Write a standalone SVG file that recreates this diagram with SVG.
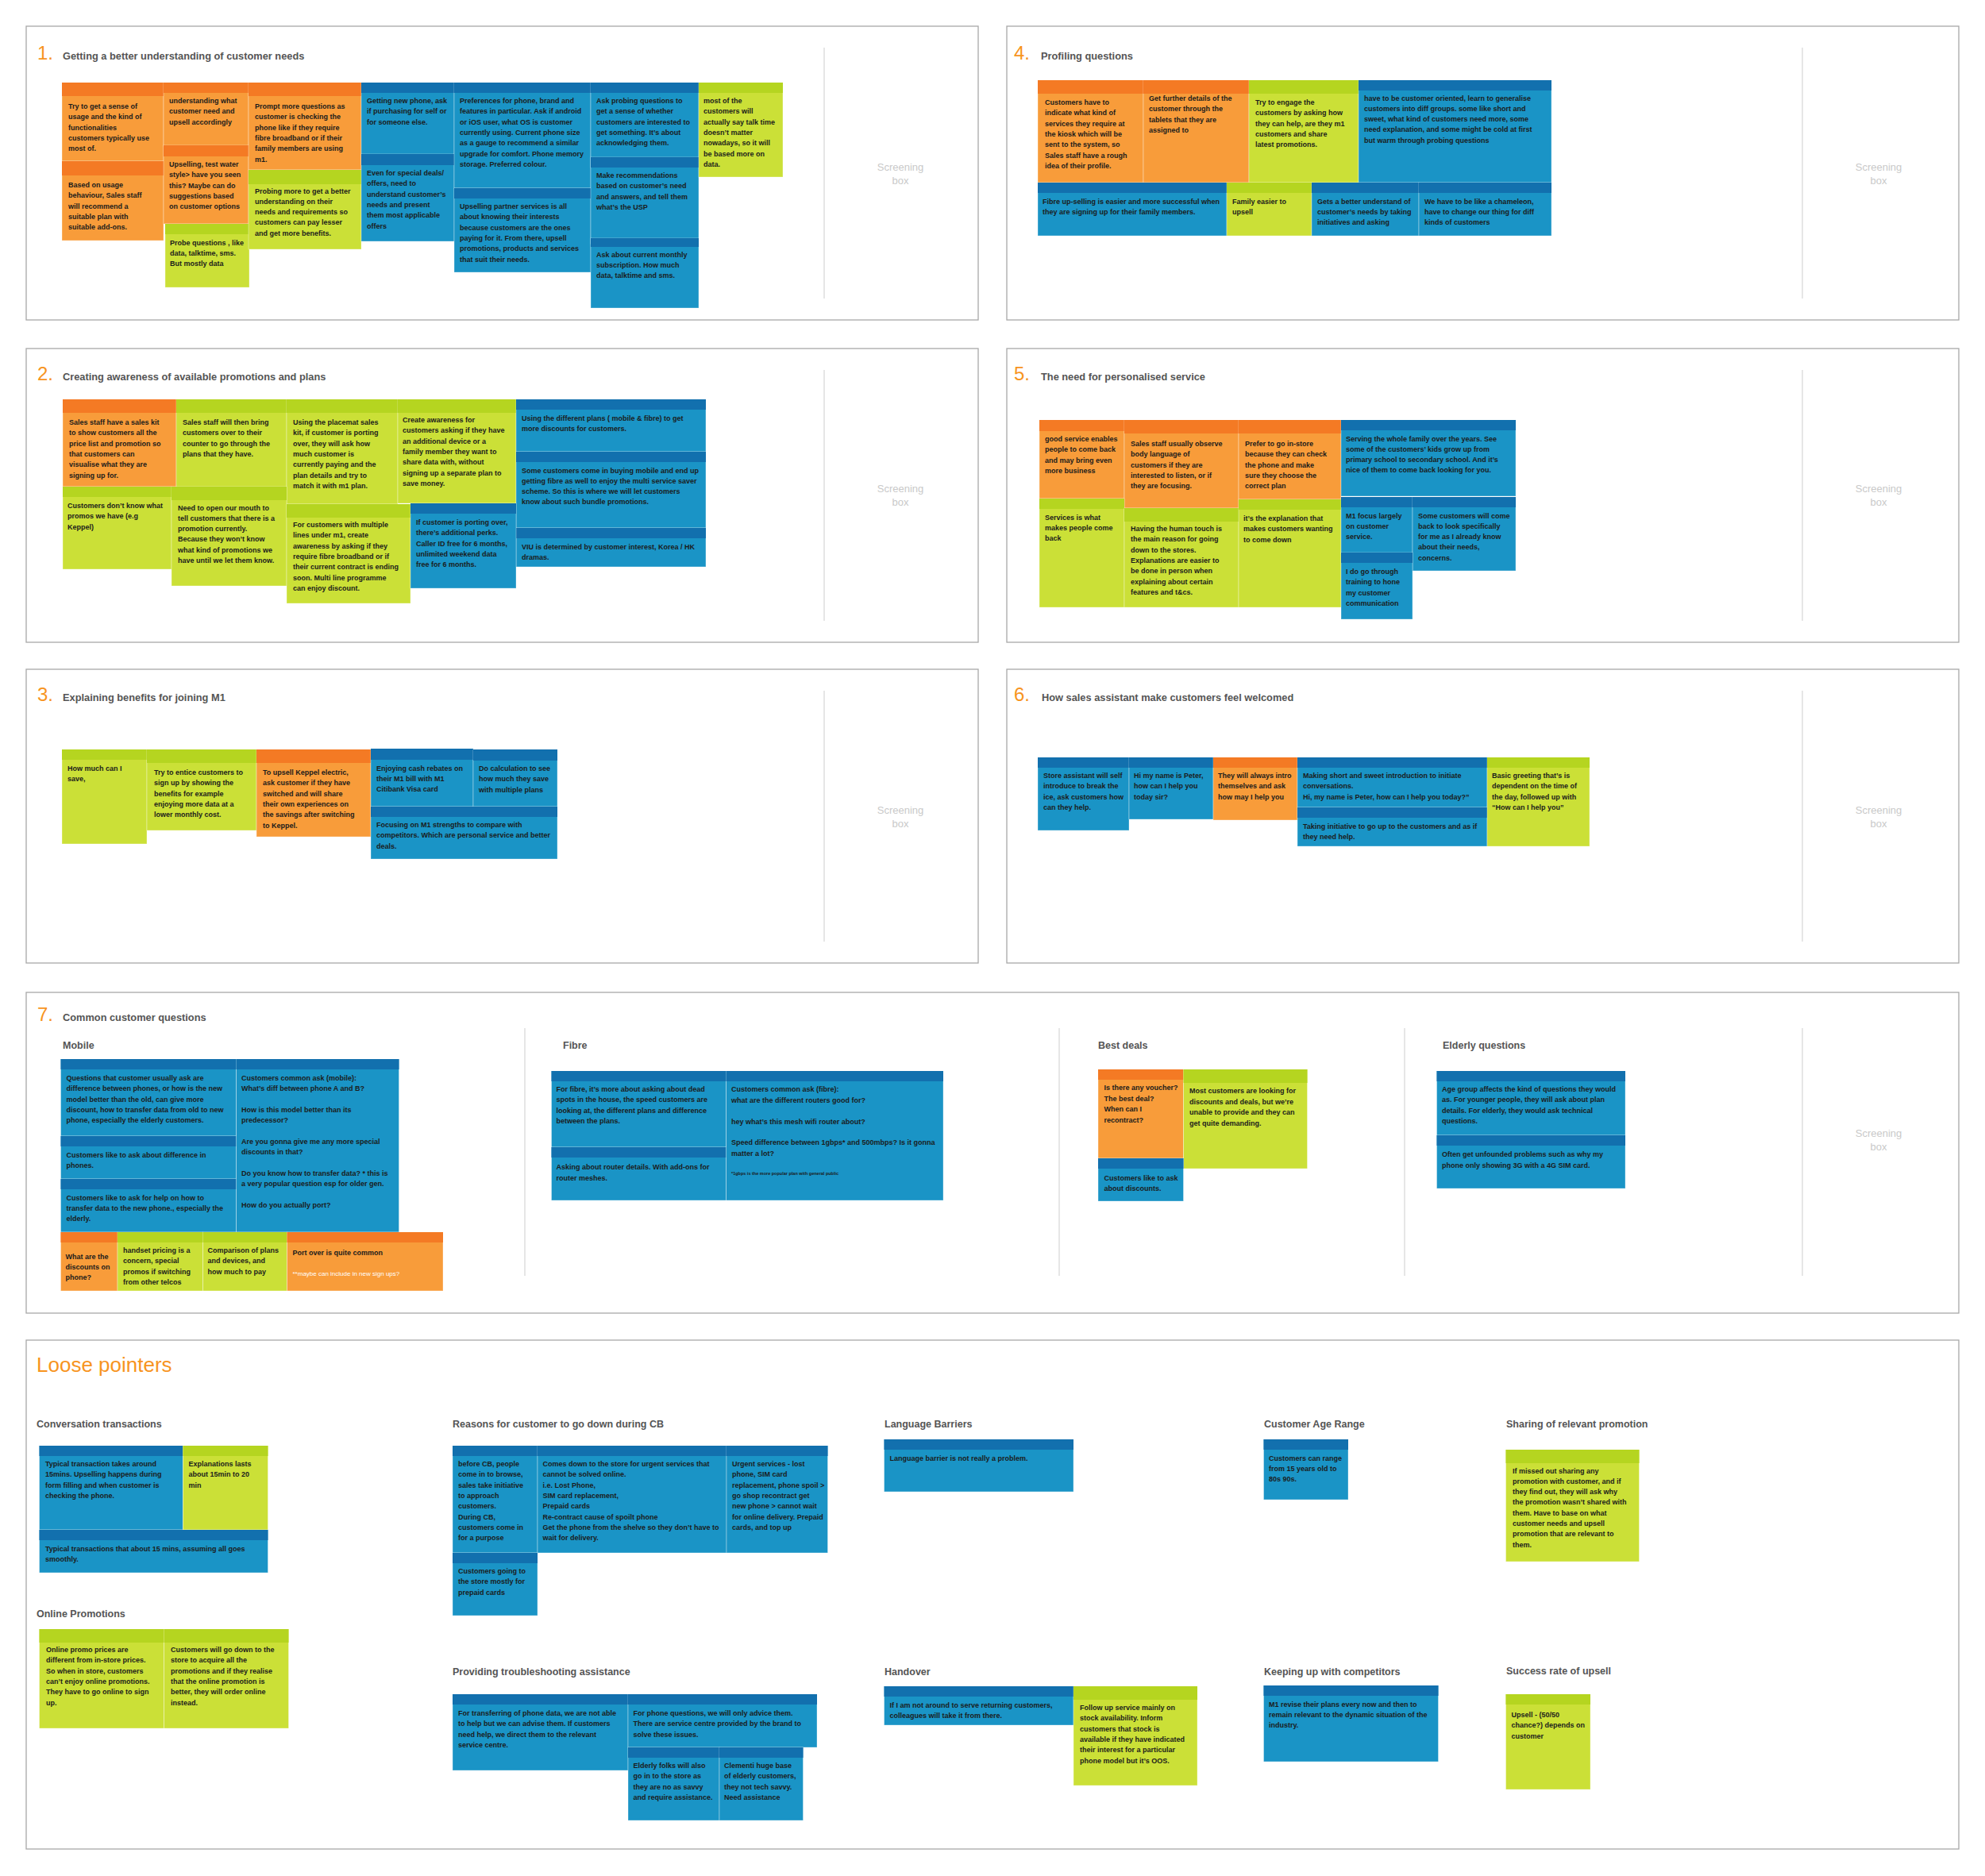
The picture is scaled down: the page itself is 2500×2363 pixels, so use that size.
<svg xmlns="http://www.w3.org/2000/svg" width="2500" height="2363" viewBox="0 0 2500 2363">
<style>
.frame{fill:none;stroke:#a8a8a8;stroke-width:1.3}
.div{stroke:#dedede;stroke-width:1.5}
.num{font-family:"Liberation Sans",Arial,sans-serif;font-size:24px;fill:#F7941E}
.title{font-family:"Liberation Sans",Arial,sans-serif;font-size:12.8px;font-weight:bold;fill:#555}
.sub{font-family:"Liberation Sans",Arial,sans-serif;font-size:12.5px;font-weight:bold;fill:#555}
.big{font-family:"Liberation Sans",Arial,sans-serif;font-size:26px;fill:#F7941E}
.scr{font-family:"Liberation Sans",Arial,sans-serif;font-size:13px;fill:#c9c9c9;text-anchor:middle}
.ob{fill:#F89C3A}.oh{fill:#F47A24}.gb{fill:#CBE037}.gh{fill:#B5D520}.bb{fill:#1A94C6}.bh{fill:#1270AE}
.nb{stroke:#ffffff;stroke-opacity:.35;stroke-width:1}
.t{font-family:"Liberation Sans",Arial,sans-serif;font-size:9px;font-weight:bold;fill:#1b1b1b}
.w{font-family:"Liberation Sans",Arial,sans-serif;font-size:8px;fill:#ffffff}
.s{font-family:"Liberation Sans",Arial,sans-serif;font-size:5.5px;font-weight:bold;fill:#1b1b1b}
</style>
<rect x="0" y="0" width="2500" height="2363" fill="#ffffff"/>

<!-- Section frames -->
<g id="frames">
<rect class="frame" x="33" y="33" width="1199" height="370"/>
<rect class="frame" x="1268" y="33" width="1199" height="370"/>
<rect class="frame" x="33" y="439" width="1199" height="370"/>
<rect class="frame" x="1268" y="439" width="1199" height="370"/>
<rect class="frame" x="33" y="843" width="1199" height="370"/>
<rect class="frame" x="1268" y="843" width="1199" height="370"/>
<rect class="frame" x="33" y="1250" width="2434" height="404"/>
<rect class="frame" x="33" y="1688" width="2434" height="641"/>
<line class="div" x1="1038" y1="60" x2="1038" y2="376"/>
<line class="div" x1="2270" y1="60" x2="2270" y2="376"/>
<line class="div" x1="1038" y1="466" x2="1038" y2="782"/>
<line class="div" x1="2270" y1="466" x2="2270" y2="782"/>
<line class="div" x1="1038" y1="870" x2="1038" y2="1186"/>
<line class="div" x1="2270" y1="870" x2="2270" y2="1186"/>
<line class="div" x1="661" y1="1295" x2="661" y2="1607"/>
<line class="div" x1="1334" y1="1295" x2="1334" y2="1607"/>
<line class="div" x1="1769" y1="1295" x2="1769" y2="1607"/>
<line class="div" x1="2270" y1="1295" x2="2270" y2="1607"/>
</g>

<!-- Titles -->
<g id="titles">
<text class="num" x="47" y="75">1.</text><text class="title" x="79" y="75">Getting a better understanding of customer needs</text>
<text class="num" x="1277" y="75">4.</text><text class="title" x="1311" y="75">Profiling questions</text>
<text class="num" x="47" y="479">2.</text><text class="title" x="79" y="479">Creating awareness of available promotions and plans</text>
<text class="num" x="1277" y="479">5.</text><text class="title" x="1311" y="479">The need for personalised service</text>
<text class="num" x="47" y="883">3.</text><text class="title" x="79" y="883">Explaining benefits for joining M1</text>
<text class="num" x="1277" y="883">6.</text><text class="title" x="1312" y="883">How sales assistant make customers feel welcomed</text>
<text class="num" x="47" y="1286">7.</text><text class="title" x="79" y="1286">Common customer questions</text>
<text class="sub" x="79" y="1321">Mobile</text>
<text class="sub" x="709" y="1321">Fibre</text>
<text class="sub" x="1383" y="1321">Best deals</text>
<text class="sub" x="1817" y="1321">Elderly questions</text>
<text class="big" x="46" y="1728">Loose pointers</text>
<text class="sub" x="46" y="1798">Conversation transactions</text>
<text class="sub" x="570" y="1798">Reasons for customer to go down during CB</text>
<text class="sub" x="46" y="2037">Online Promotions</text>
<text class="sub" x="570" y="2110">Providing troubleshooting assistance</text>
<text class="sub" x="1114" y="1798">Language Barriers</text>
<text class="sub" x="1592" y="1798">Customer Age Range</text>
<text class="sub" x="1897" y="1798">Sharing of relevant promotion</text>
<text class="sub" x="1114" y="2110">Handover</text>
<text class="sub" x="1592" y="2110">Keeping up with competitors</text>
<text class="sub" x="1897" y="2109">Success rate of upsell</text>
</g>

<!-- Screening boxes -->
<g id="screening">
<text class="scr" x="1134" y="215">Screening</text><text class="scr" x="1134" y="232">box</text>
<text class="scr" x="2366" y="215">Screening</text><text class="scr" x="2366" y="232">box</text>
<text class="scr" x="1134" y="620">Screening</text><text class="scr" x="1134" y="637">box</text>
<text class="scr" x="2366" y="620">Screening</text><text class="scr" x="2366" y="637">box</text>
<text class="scr" x="1134" y="1025">Screening</text><text class="scr" x="1134" y="1042">box</text>
<text class="scr" x="2366" y="1025">Screening</text><text class="scr" x="2366" y="1042">box</text>
<text class="scr" x="2366" y="1432">Screening</text><text class="scr" x="2366" y="1449">box</text>
</g>

<!-- Section 1 -->
<g id="n1-1"><rect class="ob nb" x="78" y="104" width="128" height="99"/><rect class="oh" x="78" y="104" width="128" height="17"/>
<text class="t" y="137"><tspan x="86">Try to get a sense of</tspan><tspan x="86" dy="13.3">usage and the kind of</tspan><tspan x="86" dy="13.3">functionalities</tspan><tspan x="86" dy="13.3">customers typically use</tspan><tspan x="86" dy="13.3">most of.</tspan></text></g>
<g id="n1-2"><rect class="ob nb" x="206" y="104" width="107" height="80"/><rect class="oh" x="206" y="104" width="107" height="13"/>
<text class="t" y="130"><tspan x="213">understanding what</tspan><tspan x="213" dy="13.3">customer need and</tspan><tspan x="213" dy="13.3">upsell accordingly</tspan></text></g>
<g id="n1-3"><rect class="ob nb" x="78" y="203" width="128" height="100"/><rect class="oh" x="78" y="203" width="128" height="18"/>
<text class="t" y="236"><tspan x="86">Based on usage</tspan><tspan x="86" dy="13.3">behaviour, Sales staff</tspan><tspan x="86" dy="13.3">will recommend a</tspan><tspan x="86" dy="13.3">suitable plan with</tspan><tspan x="86" dy="13.3">suitable add-ons.</tspan></text></g>
<g id="n1-4"><rect class="ob nb" x="206" y="183" width="107" height="99"/><rect class="oh" x="206" y="183" width="107" height="14"/>
<text class="t" y="210"><tspan x="213">Upselling, test water</tspan><tspan x="213" dy="13.3">style&gt; have you seen</tspan><tspan x="213" dy="13.3">this?  Maybe can do</tspan><tspan x="213" dy="13.3">suggestions based</tspan><tspan x="213" dy="13.3">on customer options</tspan></text></g>
<g id="n1-5"><rect class="gb nb" x="208" y="282" width="106" height="80"/><rect class="gh" x="208" y="282" width="106" height="13"/>
<text class="t" y="308.5"><tspan x="214">Probe questions , like</tspan><tspan x="214" dy="13.3">data, talktime, sms.</tspan><tspan x="214" dy="13.3">But mostly data</tspan></text></g>
<g id="n1-6"><rect class="ob nb" x="313" y="104" width="142" height="110"/><rect class="oh" x="313" y="104" width="142" height="17"/>
<text class="t" y="137"><tspan x="321">Prompt more questions as</tspan><tspan x="321" dy="13.3">customer is checking the</tspan><tspan x="321" dy="13.3">phone like if they require</tspan><tspan x="321" dy="13.3">fibre broadband or if their</tspan><tspan x="321" dy="13.3">family members are using</tspan><tspan x="321" dy="13.3">m1.</tspan></text></g>
<g id="n1-7"><rect class="gb nb" x="313" y="214" width="142" height="100"/><rect class="gh" x="313" y="214" width="142" height="18"/>
<text class="t" y="243.5"><tspan x="321">Probing more to get a better</tspan><tspan x="321" dy="13.3">understanding on their</tspan><tspan x="321" dy="13.3">needs and requirements so</tspan><tspan x="321" dy="13.3">customers can pay lesser</tspan><tspan x="321" dy="13.3">and get more benefits.</tspan></text></g>
<g id="n1-8"><rect class="bb nb" x="455" y="104" width="117" height="103"/><rect class="bh" x="455" y="104" width="117" height="13"/>
<text class="t" y="130"><tspan x="462">Getting new phone, ask</tspan><tspan x="462" dy="13.3">if purchasing for self or</tspan><tspan x="462" dy="13.3">for someone else.</tspan></text></g>
<g id="n1-9"><rect class="bb nb" x="455" y="194" width="117" height="110"/><rect class="bh" x="455" y="194" width="117" height="14"/>
<text class="t" y="221"><tspan x="462">Even for special deals/</tspan><tspan x="462" dy="13.3">offers, need to</tspan><tspan x="462" dy="13.3">understand customer’s</tspan><tspan x="462" dy="13.3">needs and present</tspan><tspan x="462" dy="13.3">them most applicable</tspan><tspan x="462" dy="13.3">offers</tspan></text></g>
<g id="n1-10"><rect class="bb nb" x="572" y="104" width="172" height="133"/><rect class="bh" x="572" y="104" width="172" height="13"/>
<text class="t" y="130"><tspan x="579">Preferences for phone, brand and</tspan><tspan x="579" dy="13.3">features in particular. Ask if android</tspan><tspan x="579" dy="13.3">or iOS user, what OS is customer</tspan><tspan x="579" dy="13.3">currently using. Current phone size</tspan><tspan x="579" dy="13.3">as a gauge to recommend  a similar</tspan><tspan x="579" dy="13.3">upgrade for comfort. Phone memory</tspan><tspan x="579" dy="13.3">storage. Preferred colour.</tspan></text></g>
<g id="n1-11"><rect class="bb nb" x="572" y="237" width="172" height="106"/><rect class="bh" x="572" y="237" width="172" height="13"/>
<text class="t" y="263"><tspan x="579">Upselling partner services is all</tspan><tspan x="579" dy="13.3">about knowing their interests</tspan><tspan x="579" dy="13.3">because customers are the ones</tspan><tspan x="579" dy="13.3">paying for it. From there, upsell</tspan><tspan x="579" dy="13.3">promotions, products and services</tspan><tspan x="579" dy="13.3">that suit their needs.</tspan></text></g>
<g id="n1-12"><rect class="bb nb" x="744" y="104" width="136" height="107"/><rect class="bh" x="744" y="104" width="136" height="13"/>
<text class="t" y="130"><tspan x="751">Ask probing questions to</tspan><tspan x="751" dy="13.3">get a sense of whether</tspan><tspan x="751" dy="13.3">customers are interested to</tspan><tspan x="751" dy="13.3">get something. It’s about</tspan><tspan x="751" dy="13.3">acknowledging them.</tspan></text></g>
<g id="n1-13"><rect class="bb nb" x="744" y="198" width="136" height="109"/><rect class="bh" x="744" y="198" width="136" height="13"/>
<text class="t" y="224"><tspan x="751">Make recommendations</tspan><tspan x="751" dy="13.3">based on customer’s need</tspan><tspan x="751" dy="13.3">and answers, and tell them</tspan><tspan x="751" dy="13.3">what’s the USP</tspan></text></g>
<g id="n1-14"><rect class="bb nb" x="744" y="300" width="136" height="88"/><rect class="bh" x="744" y="300" width="136" height="11"/>
<text class="t" y="323.5"><tspan x="751">Ask about current monthly</tspan><tspan x="751" dy="13.3">subscription. How much</tspan><tspan x="751" dy="13.3">data, talktime and sms.</tspan></text></g>
<g id="n1-15"><rect class="gb nb" x="880" y="104" width="106" height="119"/><rect class="gh" x="880" y="104" width="106" height="13"/>
<text class="t" y="130"><tspan x="886">most of the</tspan><tspan x="886" dy="13.3">customers will</tspan><tspan x="886" dy="13.3">actually say talk time</tspan><tspan x="886" dy="13.3">doesn’t matter</tspan><tspan x="886" dy="13.3">nowadays, so it will</tspan><tspan x="886" dy="13.3">be based more on</tspan><tspan x="886" dy="13.3">data.</tspan></text></g>

<!-- Section 4 -->
<g id="n4-1"><rect class="ob nb" x="1307" y="101" width="133" height="129"/><rect class="oh" x="1307" y="101" width="133" height="17"/>
<text class="t" y="132"><tspan x="1316">Customers have to</tspan><tspan x="1316" dy="13.3">indicate what kind of</tspan><tspan x="1316" dy="13.3">services they require at</tspan><tspan x="1316" dy="13.3">the kiosk which will be</tspan><tspan x="1316" dy="13.3">sent to the system, so</tspan><tspan x="1316" dy="13.3">Sales staff have a rough</tspan><tspan x="1316" dy="13.3">idea of their profile.</tspan></text></g>
<g id="n4-2"><rect class="ob nb" x="1440" y="101" width="133" height="129"/><rect class="oh" x="1440" y="101" width="133" height="17"/>
<text class="t" y="127"><tspan x="1447">Get further details of the</tspan><tspan x="1447" dy="13.3">customer through the</tspan><tspan x="1447" dy="13.3">tablets that they are</tspan><tspan x="1447" dy="13.3">assigned to</tspan></text></g>
<g id="n4-3"><rect class="gb nb" x="1573" y="101" width="138" height="129"/><rect class="gh" x="1573" y="101" width="138" height="17"/>
<text class="t" y="132"><tspan x="1581">Try to engage the</tspan><tspan x="1581" dy="13.3">customers by asking how</tspan><tspan x="1581" dy="13.3">they can help, are they m1</tspan><tspan x="1581" dy="13.3">customers and share</tspan><tspan x="1581" dy="13.3">latest promotions.</tspan></text></g>
<g id="n4-4"><rect class="bb nb" x="1711" y="101" width="243" height="129"/><rect class="bh" x="1711" y="101" width="243" height="13"/>
<text class="t" y="126.5"><tspan x="1718">have to be customer oriented, learn to generalise</tspan><tspan x="1718" dy="13.3">customers into diff groups. some like short and</tspan><tspan x="1718" dy="13.3">sweet, what kind of customers need more, some</tspan><tspan x="1718" dy="13.3">need explanation, and some might be cold at first</tspan><tspan x="1718" dy="13.3">but warm through probing questions</tspan></text></g>
<g id="n4-5"><rect class="bb nb" x="1307" y="230" width="238" height="67"/><rect class="bh" x="1307" y="230" width="238" height="13"/>
<text class="t" y="256.5"><tspan x="1313">Fibre up-selling is easier and more successful when</tspan><tspan x="1313" dy="13.3">they are signing up for their family members.</tspan></text></g>
<g id="n4-6"><rect class="gb nb" x="1545" y="230" width="107" height="67"/><rect class="gh" x="1545" y="230" width="107" height="13"/>
<text class="t" y="256.5"><tspan x="1552">Family easier to</tspan><tspan x="1552" dy="13.3">upsell</tspan></text></g>
<g id="n4-7"><rect class="bb nb" x="1652" y="230" width="135" height="67"/><rect class="bh" x="1652" y="230" width="135" height="13"/>
<text class="t" y="256.5"><tspan x="1659">Gets a better understand of</tspan><tspan x="1659" dy="13.3">customer’s needs by taking</tspan><tspan x="1659" dy="13.3">initiatives and asking</tspan></text></g>
<g id="n4-8"><rect class="bb nb" x="1787" y="230" width="167" height="67"/><rect class="bh" x="1787" y="230" width="167" height="13"/>
<text class="t" y="256.5"><tspan x="1794">We have to be like a chameleon,</tspan><tspan x="1794" dy="13.3">have to change our thing for diff</tspan><tspan x="1794" dy="13.3">kinds of customers</tspan></text></g>

<!-- Section 2 -->
<g id="n2-1"><rect class="ob nb" x="79" y="503" width="143" height="110"/><rect class="oh" x="79" y="503" width="143" height="17"/>
<text class="t" y="535"><tspan x="87">Sales staff have a sales kit</tspan><tspan x="87" dy="13.3">to show customers all the</tspan><tspan x="87" dy="13.3">price list and promotion so</tspan><tspan x="87" dy="13.3">that customers can</tspan><tspan x="87" dy="13.3">visualise what they are</tspan><tspan x="87" dy="13.3">signing up for.</tspan></text></g>
<g id="n2-2"><rect class="gb nb" x="222" y="503" width="139" height="124"/><rect class="gh" x="222" y="503" width="139" height="17"/>
<text class="t" y="535"><tspan x="230">Sales staff will then bring</tspan><tspan x="230" dy="13.3">customers over to their</tspan><tspan x="230" dy="13.3">counter to go through the</tspan><tspan x="230" dy="13.3">plans that they have.</tspan></text></g>
<g id="n2-3"><rect class="gb nb" x="361" y="503" width="140" height="132"/><rect class="gh" x="361" y="503" width="140" height="17"/>
<text class="t" y="535"><tspan x="369">Using the placemat sales</tspan><tspan x="369" dy="13.3">kit, if customer is porting</tspan><tspan x="369" dy="13.3">over, they will ask how</tspan><tspan x="369" dy="13.3">much customer is</tspan><tspan x="369" dy="13.3">currently paying and the</tspan><tspan x="369" dy="13.3">plan details and try to</tspan><tspan x="369" dy="13.3">match it with m1 plan.</tspan></text></g>
<g id="n2-4"><rect class="gb nb" x="501" y="503" width="149" height="131"/><rect class="gh" x="501" y="503" width="149" height="17"/>
<text class="t" y="532"><tspan x="507">Create awareness for</tspan><tspan x="507" dy="13.3">customers asking if they have</tspan><tspan x="507" dy="13.3">an additional device or a</tspan><tspan x="507" dy="13.3">family member they want to</tspan><tspan x="507" dy="13.3">share data with, without</tspan><tspan x="507" dy="13.3">signing up a separate plan to</tspan><tspan x="507" dy="13.3">save money.</tspan></text></g>
<g id="n2-5"><rect class="bb nb" x="650" y="503" width="239" height="66"/><rect class="bh" x="650" y="503" width="239" height="13"/>
<text class="t" y="529.5"><tspan x="657">Using the different plans ( mobile &amp; fibre) to get</tspan><tspan x="657" dy="13.3">more discounts for customers.</tspan></text></g>
<g id="n2-6"><rect class="bb nb" x="650" y="569" width="239" height="96"/><rect class="bh" x="650" y="569" width="239" height="13"/>
<text class="t" y="595.5"><tspan x="657">Some customers come in buying mobile and end up</tspan><tspan x="657" dy="13.3">getting fibre as well to enjoy the multi service saver</tspan><tspan x="657" dy="13.3">scheme. So this is where we will let customers</tspan><tspan x="657" dy="13.3">know about such bundle promotions.</tspan></text></g>
<g id="n2-7"><rect class="bb nb" x="650" y="665" width="239" height="49"/><rect class="bh" x="650" y="665" width="239" height="13"/>
<text class="t" y="692"><tspan x="657">VIU is determined by customer interest, Korea / HK</tspan><tspan x="657" dy="13.3">dramas.</tspan></text></g>
<g id="n2-8"><rect class="gb nb" x="79" y="613" width="137" height="104"/><rect class="gh" x="79" y="613" width="137" height="13"/>
<text class="t" y="640"><tspan x="85">Customers don’t know what</tspan><tspan x="85" dy="13.3">promos we have (e.g</tspan><tspan x="85" dy="13.3">Keppel)</tspan></text></g>
<g id="n2-9"><rect class="gb nb" x="216" y="613" width="145" height="125"/><rect class="gh" x="216" y="613" width="145" height="17"/>
<text class="t" y="642.5"><tspan x="224">Need to open our mouth to</tspan><tspan x="224" dy="13.3">tell customers that there is a</tspan><tspan x="224" dy="13.3">promotion currently.</tspan><tspan x="224" dy="13.3">Because they won’t know</tspan><tspan x="224" dy="13.3">what kind of promotions we</tspan><tspan x="224" dy="13.3">have until we let them know.</tspan></text></g>
<g id="n2-10"><rect class="gb nb" x="361" y="635" width="156" height="125"/><rect class="gh" x="361" y="635" width="156" height="17"/>
<text class="t" y="664"><tspan x="369">For customers with multiple</tspan><tspan x="369" dy="13.3">lines under m1, create</tspan><tspan x="369" dy="13.3">awareness by asking if they</tspan><tspan x="369" dy="13.3">require fibre broadband or if</tspan><tspan x="369" dy="13.3">their current contract is ending</tspan><tspan x="369" dy="13.3">soon. Multi line programme</tspan><tspan x="369" dy="13.3">can enjoy discount.</tspan></text></g>
<g id="n2-11"><rect class="bb nb" x="517" y="634" width="133" height="107"/><rect class="bh" x="517" y="634" width="133" height="13"/>
<text class="t" y="661"><tspan x="524">If customer is porting over,</tspan><tspan x="524" dy="13.3">there’s additional perks.</tspan><tspan x="524" dy="13.3">Caller ID free for 6 months,</tspan><tspan x="524" dy="13.3">unlimited weekend data</tspan><tspan x="524" dy="13.3">free for 6 months.</tspan></text></g>

<!-- Section 5 -->
<g id="n5-1"><rect class="ob nb" x="1309" y="529" width="107" height="99"/><rect class="oh" x="1309" y="529" width="107" height="14"/>
<text class="t" y="556"><tspan x="1316">good service enables</tspan><tspan x="1316" dy="13.3">people to come back</tspan><tspan x="1316" dy="13.3">and may bring even</tspan><tspan x="1316" dy="13.3">more business</tspan></text></g>
<g id="n5-2"><rect class="ob nb" x="1416" y="529" width="144" height="111"/><rect class="oh" x="1416" y="529" width="144" height="17"/>
<text class="t" y="562"><tspan x="1424">Sales staff usually observe</tspan><tspan x="1424" dy="13.3">body language of</tspan><tspan x="1424" dy="13.3">customers if they are</tspan><tspan x="1424" dy="13.3">interested to listen, or if</tspan><tspan x="1424" dy="13.3">they are focusing.</tspan></text></g>
<g id="n5-3"><rect class="ob nb" x="1560" y="529" width="129" height="100"/><rect class="oh" x="1560" y="529" width="129" height="17"/>
<text class="t" y="562"><tspan x="1568">Prefer to go in-store</tspan><tspan x="1568" dy="13.3">because they can check</tspan><tspan x="1568" dy="13.3">the phone and make</tspan><tspan x="1568" dy="13.3">sure they choose the</tspan><tspan x="1568" dy="13.3">correct plan</tspan></text></g>
<g id="n5-4"><rect class="bb nb" x="1689" y="529" width="220" height="96"/><rect class="bh" x="1689" y="529" width="220" height="13"/>
<text class="t" y="555.5"><tspan x="1695">Serving the whole family over the years. See</tspan><tspan x="1695" dy="13.3">some of the customers’ kids grow up from</tspan><tspan x="1695" dy="13.3">primary school to secondary school. And it’s</tspan><tspan x="1695" dy="13.3">nice of them to come back looking for you.</tspan></text></g>
<g id="n5-5"><rect class="gb nb" x="1309" y="628" width="107" height="137"/><rect class="gh" x="1309" y="628" width="107" height="13"/>
<text class="t" y="654.5"><tspan x="1316">Services is what</tspan><tspan x="1316" dy="13.3">makes people come</tspan><tspan x="1316" dy="13.3">back</tspan></text></g>
<g id="n5-6"><rect class="gb nb" x="1416" y="640" width="144" height="125"/><rect class="gh" x="1416" y="640" width="144" height="17"/>
<text class="t" y="669"><tspan x="1424">Having the human touch is</tspan><tspan x="1424" dy="13.3">the main reason for going</tspan><tspan x="1424" dy="13.3">down to the stores.</tspan><tspan x="1424" dy="13.3">Explanations are easier to</tspan><tspan x="1424" dy="13.3">be done in person when</tspan><tspan x="1424" dy="13.3">explaining about certain</tspan><tspan x="1424" dy="13.3">features and t&amp;cs.</tspan></text></g>
<g id="n5-7"><rect class="gb nb" x="1560" y="629" width="129" height="136"/><rect class="gh" x="1560" y="629" width="129" height="13"/>
<text class="t" y="656"><tspan x="1566">it’s the explanation that</tspan><tspan x="1566" dy="13.3">makes customers wanting</tspan><tspan x="1566" dy="13.3">to come down</tspan></text></g>
<g id="n5-8"><rect class="bb nb" x="1689" y="626" width="90" height="71"/><rect class="bh" x="1689" y="626" width="90" height="13"/>
<text class="t" y="652.5"><tspan x="1695">M1 focus largely</tspan><tspan x="1695" dy="13.3">on customer</tspan><tspan x="1695" dy="13.3">service.</tspan></text></g>
<g id="n5-9"><rect class="bb nb" x="1779" y="626" width="130" height="93"/><rect class="bh" x="1779" y="626" width="130" height="13"/>
<text class="t" y="652.5"><tspan x="1786">Some customers will come</tspan><tspan x="1786" dy="13.3">back to look specifically</tspan><tspan x="1786" dy="13.3">for me as I already know</tspan><tspan x="1786" dy="13.3">about their needs,</tspan><tspan x="1786" dy="13.3">concerns.</tspan></text></g>
<g id="n5-10"><rect class="bb nb" x="1689" y="696" width="90" height="84"/><rect class="bh" x="1689" y="696" width="90" height="13"/>
<text class="t" y="723"><tspan x="1695">I do go through</tspan><tspan x="1695" dy="13.3">training to hone</tspan><tspan x="1695" dy="13.3">my customer</tspan><tspan x="1695" dy="13.3">communication</tspan></text></g>

<!-- Section 3 -->
<g id="n3-1"><rect class="gb nb" x="78" y="944" width="107" height="119"/><rect class="gh" x="78" y="944" width="107" height="13"/>
<text class="t" y="970.5"><tspan x="85">How much can I</tspan><tspan x="85" dy="13.3">save,</tspan></text></g>
<g id="n3-2"><rect class="gb nb" x="185" y="944" width="138" height="102"/><rect class="gh" x="185" y="944" width="138" height="17"/>
<text class="t" y="976"><tspan x="194">Try to entice customers to</tspan><tspan x="194" dy="13.3">sign up by showing the</tspan><tspan x="194" dy="13.3">benefits for example</tspan><tspan x="194" dy="13.3">enjoying more data at a</tspan><tspan x="194" dy="13.3">lower monthly cost.</tspan></text></g>
<g id="n3-3"><rect class="ob nb" x="323" y="944" width="144" height="110"/><rect class="oh" x="323" y="944" width="144" height="17"/>
<text class="t" y="976"><tspan x="331">To upsell Keppel electric,</tspan><tspan x="331" dy="13.3">ask customer if they have</tspan><tspan x="331" dy="13.3">switched and will share</tspan><tspan x="331" dy="13.3">their own experiences on</tspan><tspan x="331" dy="13.3">the savings after switching</tspan><tspan x="331" dy="13.3">to Keppel.</tspan></text></g>
<g id="n3-4"><rect class="bb nb" x="467" y="943" width="129" height="73"/><rect class="bh" x="467" y="943" width="129" height="14"/>
<text class="t" y="970.5"><tspan x="474">Enjoying cash rebates on</tspan><tspan x="474" dy="13.3">their M1 bill with M1</tspan><tspan x="474" dy="13.3">Citibank Visa card</tspan></text></g>
<g id="n3-5"><rect class="bb nb" x="596" y="944" width="106" height="72"/><rect class="bh" x="596" y="944" width="106" height="14"/>
<text class="t" y="971"><tspan x="603">Do calculation to see</tspan><tspan x="603" dy="13.3">how much they save</tspan><tspan x="603" dy="13.3">with multiple plans</tspan></text></g>
<g id="n3-6"><rect class="bb nb" x="467" y="1016" width="235" height="66"/><rect class="bh" x="467" y="1016" width="235" height="13"/>
<text class="t" y="1042"><tspan x="474">Focusing on M1 strengths to compare with</tspan><tspan x="474" dy="13.3">competitors. Which are personal service and better</tspan><tspan x="474" dy="13.3">deals.</tspan></text></g>

<!-- Section 6 -->
<g id="n6-1"><rect class="bb nb" x="1307" y="954" width="115" height="92"/><rect class="bh" x="1307" y="954" width="115" height="13"/>
<text class="t" y="980"><tspan x="1314">Store assistant will self</tspan><tspan x="1314" dy="13.3">introduce to break the</tspan><tspan x="1314" dy="13.3">ice, ask customers how</tspan><tspan x="1314" dy="13.3">can they help.</tspan></text></g>
<g id="n6-2"><rect class="bb nb" x="1422" y="954" width="106" height="78"/><rect class="bh" x="1422" y="954" width="106" height="13"/>
<text class="t" y="980"><tspan x="1428">Hi my name is Peter,</tspan><tspan x="1428" dy="13.3">how can I help you</tspan><tspan x="1428" dy="13.3">today sir?</tspan></text></g>
<g id="n6-3"><rect class="ob nb" x="1528" y="954" width="106" height="79"/><rect class="oh" x="1528" y="954" width="106" height="13"/>
<text class="t" y="980"><tspan x="1534">They will always intro</tspan><tspan x="1534" dy="13.3">themselves and ask</tspan><tspan x="1534" dy="13.3">how may I help you</tspan></text></g>
<g id="n6-4"><rect class="bb nb" x="1634" y="954" width="239" height="63"/><rect class="bh" x="1634" y="954" width="239" height="13"/>
<text class="t" y="980"><tspan x="1641">Making short and sweet introduction to initiate</tspan><tspan x="1641" dy="13.3">conversations.</tspan><tspan x="1641" dy="13.3">Hi, my name is Peter, how can I help you today?”</tspan></text></g>
<g id="n6-5"><rect class="bb nb" x="1634" y="1017" width="239" height="49"/><rect class="bh" x="1634" y="1017" width="239" height="13"/>
<text class="t" y="1044"><tspan x="1641">Taking initiative to go up to the customers and as if</tspan><tspan x="1641" dy="13.3">they need help.</tspan></text></g>
<g id="n6-6"><rect class="gb nb" x="1873" y="954" width="129" height="112"/><rect class="gh" x="1873" y="954" width="129" height="13"/>
<text class="t" y="980"><tspan x="1879">Basic greeting that’s is</tspan><tspan x="1879" dy="13.3">dependent on the time of</tspan><tspan x="1879" dy="13.3">the day, followed up with</tspan><tspan x="1879" dy="13.3">“How can I help you”</tspan></text></g>

<!-- Section 7: Mobile -->
<g id="n7-1"><rect class="bb nb" x="76.5" y="1334" width="221" height="97"/><rect class="bh" x="76.5" y="1334" width="221" height="13"/>
<text class="t" y="1361"><tspan x="83.5">Questions that customer usually ask are</tspan><tspan x="83.5" dy="13.3">difference between phones, or how is the new</tspan><tspan x="83.5" dy="13.3">model better than the old, can give more</tspan><tspan x="83.5" dy="13.3">discount, how to transfer data from old to new</tspan><tspan x="83.5" dy="13.3">phone, especially the elderly customers.</tspan></text></g>
<g id="n7-2"><rect class="bb nb" x="76.5" y="1431" width="221" height="54"/><rect class="bh" x="76.5" y="1431" width="221" height="13"/>
<text class="t" y="1457.5"><tspan x="83.5">Customers like to ask about difference in</tspan><tspan x="83.5" dy="13.3">phones.</tspan></text></g>
<g id="n7-3"><rect class="bb nb" x="76.5" y="1485" width="221" height="67"/><rect class="bh" x="76.5" y="1485" width="221" height="13"/>
<text class="t" y="1511.5"><tspan x="83.5">Customers like to ask for help on how to</tspan><tspan x="83.5" dy="13.3">transfer data to the new phone., especially the</tspan><tspan x="83.5" dy="13.3">elderly.</tspan></text></g>
<g id="n7-4"><rect class="bb nb" x="297.5" y="1334" width="205" height="218"/><rect class="bh" x="297.5" y="1334" width="205" height="13"/>
<text class="t"><tspan x="304" y="1361">Customers common ask (mobile):</tspan><tspan x="304" y="1374.3">What’s diff between phone A and B?</tspan><tspan x="304" y="1401">How is this model better than its</tspan><tspan x="304" y="1414.3">predecessor?</tspan><tspan x="304" y="1441">Are you gonna give me any more special</tspan><tspan x="304" y="1454.3">discounts in that?</tspan><tspan x="304" y="1481">Do you know how to transfer data? * this is</tspan><tspan x="304" y="1494.3">a very popular question esp for older gen.</tspan><tspan x="304" y="1521">How do you actually port?</tspan></text></g>
<g id="n7-5"><rect class="ob nb" x="76.5" y="1552" width="71.5" height="74"/><rect class="oh" x="76.5" y="1552" width="71.5" height="13"/>
<text class="t" y="1585.5"><tspan x="82.5">What are the</tspan><tspan x="82.5" dy="13.3">discounts on</tspan><tspan x="82.5" dy="13.3">phone?</tspan></text></g>
<g id="n7-6"><rect class="gb nb" x="148" y="1552" width="107.5" height="74"/><rect class="gh" x="148" y="1552" width="107.5" height="13"/>
<text class="t" y="1578"><tspan x="155">handset pricing is a</tspan><tspan x="155" dy="13.3">concern, special</tspan><tspan x="155" dy="13.3">promos if switching</tspan><tspan x="155" dy="13.3">from other telcos</tspan></text></g>
<g id="n7-7"><rect class="gb nb" x="255.5" y="1552" width="106" height="74"/><rect class="gh" x="255.5" y="1552" width="106" height="13"/>
<text class="t" y="1578"><tspan x="261.5">Comparison of plans</tspan><tspan x="261.5" dy="13.3">and devices, and</tspan><tspan x="261.5" dy="13.3">how much to pay</tspan></text></g>
<g id="n7-8"><rect class="ob nb" x="361.5" y="1552" width="196.5" height="74"/><rect class="oh" x="361.5" y="1552" width="196.5" height="13"/>
<text class="t" x="368.5" y="1580.5">Port over is quite common</text>
<text class="w" x="368.5" y="1607">**maybe can include in new sign ups?</text></g>

<!-- Section 7: Fibre -->
<g id="n7-9"><rect class="bb nb" x="694.5" y="1349" width="220" height="96"/><rect class="bh" x="694.5" y="1349" width="220" height="13"/>
<text class="t" y="1374.5"><tspan x="700.5">For fibre, it’s more about asking about dead</tspan><tspan x="700.5" dy="13.6">spots in the house, the speed customers are</tspan><tspan x="700.5" dy="13.6">looking at, the different plans and difference</tspan><tspan x="700.5" dy="13.6">between the plans.</tspan></text></g>
<g id="n7-10"><rect class="bb nb" x="694.5" y="1445" width="220" height="67"/><rect class="bh" x="694.5" y="1445" width="220" height="13"/>
<text class="t" y="1473"><tspan x="700.5">Asking about router details. With add-ons for</tspan><tspan x="700.5" dy="13.6">router meshes.</tspan></text></g>
<g id="n7-11"><rect class="bb nb" x="914.5" y="1349" width="273.5" height="163"/><rect class="bh" x="914.5" y="1349" width="273.5" height="13"/>
<text class="t"><tspan x="921" y="1374.5">Customers common ask (fibre):</tspan><tspan x="921" y="1389">what are the different routers good for?</tspan><tspan x="921" y="1415.5">hey what’s this mesh wifi router about?</tspan><tspan x="921" y="1442">Speed difference between 1gbps* and 500mbps? Is it gonna</tspan><tspan x="921" y="1456">matter a lot?</tspan></text>
<text class="s" x="921" y="1480">*1gbps is the more popular plan with general public</text></g>

<!-- Section 7: Best deals -->
<g id="n7-12"><rect class="ob nb" x="1383" y="1347" width="107.5" height="112"/><rect class="oh" x="1383" y="1347" width="107.5" height="13"/>
<text class="t" y="1373"><tspan x="1390.5">Is there any voucher?</tspan><tspan x="1390.5" dy="13.7">The best deal?</tspan><tspan x="1390.5" dy="13.7">When can I</tspan><tspan x="1390.5" dy="13.7">recontract?</tspan></text></g>
<g id="n7-13"><rect class="gb nb" x="1490.5" y="1347" width="156" height="125"/><rect class="gh" x="1490.5" y="1347" width="156" height="17"/>
<text class="t" y="1377"><tspan x="1498">Most customers are looking for</tspan><tspan x="1498" dy="13.7">discounts and deals, but we’re</tspan><tspan x="1498" dy="13.7">unable to provide and they can</tspan><tspan x="1498" dy="13.7">get quite demanding.</tspan></text></g>
<g id="n7-14"><rect class="bb nb" x="1383" y="1459" width="107.5" height="54"/><rect class="bh" x="1383" y="1459" width="107.5" height="13"/>
<text class="t" y="1486.5"><tspan x="1390.5">Customers like to ask</tspan><tspan x="1390.5" dy="13.7">about discounts.</tspan></text></g>

<!-- Section 7: Elderly -->
<g id="n7-15"><rect class="bb nb" x="1809.5" y="1349" width="237.5" height="81"/><rect class="bh" x="1809.5" y="1349" width="237.5" height="13"/>
<text class="t" y="1374.5"><tspan x="1816">Age group affects the kind of questions they would</tspan><tspan x="1816" dy="13.6">as. For younger people, they will ask about plan</tspan><tspan x="1816" dy="13.6">details. For elderly, they would ask technical</tspan><tspan x="1816" dy="13.6">questions.</tspan></text></g>
<g id="n7-16"><rect class="bb nb" x="1809.5" y="1430" width="237.5" height="67"/><rect class="bh" x="1809.5" y="1430" width="237.5" height="13"/>
<text class="t" y="1457"><tspan x="1816">Often get unfounded problems such as why my</tspan><tspan x="1816" dy="13.6">phone only showing 3G with a 4G SIM card.</tspan></text></g>

<!-- Loose pointers -->
<g id="lp-1"><rect class="bb nb" x="49.5" y="1821" width="181" height="106"/><rect class="bh" x="49.5" y="1821" width="181" height="13"/>
<text class="t" y="1847"><tspan x="57">Typical transaction takes around</tspan><tspan x="57" dy="13.3">15mins. Upselling happens during</tspan><tspan x="57" dy="13.3">form filling and when customer is</tspan><tspan x="57" dy="13.3">checking the phone.</tspan></text></g>
<g id="lp-2"><rect class="gb nb" x="230.5" y="1821" width="107" height="106"/><rect class="gh" x="230.5" y="1821" width="107" height="13"/>
<text class="t" y="1847"><tspan x="237.5">Explanations lasts</tspan><tspan x="237.5" dy="13.3">about 15min to 20</tspan><tspan x="237.5" dy="13.3">min</tspan></text></g>
<g id="lp-3"><rect class="bb nb" x="49.5" y="1927" width="288" height="54"/><rect class="bh" x="49.5" y="1927" width="288" height="13"/>
<text class="t" y="1954"><tspan x="57">Typical transactions that about 15 mins, assuming all goes</tspan><tspan x="57" dy="13.3">smoothly.</tspan></text></g>
<g id="lp-4"><rect class="bb nb" x="570" y="1821" width="107" height="135"/><rect class="bh" x="570" y="1821" width="107" height="13"/>
<text class="t" y="1847"><tspan x="577">before CB, people</tspan><tspan x="577" dy="13.3">come in to browse,</tspan><tspan x="577" dy="13.3">sales take initiative</tspan><tspan x="577" dy="13.3">to approach</tspan><tspan x="577" dy="13.3">customers.</tspan><tspan x="577" dy="13.3">During CB,</tspan><tspan x="577" dy="13.3">customers come in</tspan><tspan x="577" dy="13.3">for a purpose</tspan></text></g>
<g id="lp-5"><rect class="bb nb" x="677" y="1821" width="238" height="135"/><rect class="bh" x="677" y="1821" width="238" height="13"/>
<text class="t" y="1847"><tspan x="683.5">Comes down to the store for urgent services that</tspan><tspan x="683.5" dy="13.3">cannot be solved online.</tspan><tspan x="683.5" dy="13.3">i.e. Lost Phone,</tspan><tspan x="683.5" dy="13.3">SIM card replacement,</tspan><tspan x="683.5" dy="13.3">Prepaid cards</tspan><tspan x="683.5" dy="13.3">Re-contract cause of spoilt phone</tspan><tspan x="683.5" dy="13.3">Get the phone from the shelve so they don’t have to</tspan><tspan x="683.5" dy="13.3">wait for delivery.</tspan></text></g>
<g id="lp-6"><rect class="bb nb" x="915" y="1821" width="127.5" height="135"/><rect class="bh" x="915" y="1821" width="127.5" height="13"/>
<text class="t" y="1847"><tspan x="922">Urgent services - lost</tspan><tspan x="922" dy="13.3">phone, SIM card</tspan><tspan x="922" dy="13.3">replacement, phone spoil &gt;</tspan><tspan x="922" dy="13.3">go shop recontract get</tspan><tspan x="922" dy="13.3">new phone &gt; cannot wait</tspan><tspan x="922" dy="13.3">for online delivery. Prepaid</tspan><tspan x="922" dy="13.3">cards, and top up</tspan></text></g>
<g id="lp-7"><rect class="bb nb" x="570" y="1956" width="107" height="79"/><rect class="bh" x="570" y="1956" width="107" height="13"/>
<text class="t" y="1982"><tspan x="577">Customers going to</tspan><tspan x="577" dy="13.3">the store mostly for</tspan><tspan x="577" dy="13.3">prepaid cards</tspan></text></g>
<g id="lp-8"><rect class="gb nb" x="49.5" y="2052" width="157" height="125"/><rect class="gh" x="49.5" y="2052" width="157" height="17"/>
<text class="t" y="2081"><tspan x="58">Online promo prices are</tspan><tspan x="58" dy="13.3">different from in-store prices.</tspan><tspan x="58" dy="13.3">So when in store, customers</tspan><tspan x="58" dy="13.3">can’t enjoy online promotions.</tspan><tspan x="58" dy="13.3">They have to go online to sign</tspan><tspan x="58" dy="13.3">up.</tspan></text></g>
<g id="lp-9"><rect class="gb nb" x="206.5" y="2052" width="157" height="125"/><rect class="gh" x="206.5" y="2052" width="157" height="17"/>
<text class="t" y="2081"><tspan x="215">Customers will go down to the</tspan><tspan x="215" dy="13.3">store to acquire all the</tspan><tspan x="215" dy="13.3">promotions and if they realise</tspan><tspan x="215" dy="13.3">that the online promotion is</tspan><tspan x="215" dy="13.3">better, they will order online</tspan><tspan x="215" dy="13.3">instead.</tspan></text></g>
<g id="lp-10"><rect class="bb nb" x="570" y="2134" width="221" height="96"/><rect class="bh" x="570" y="2134" width="221" height="13"/>
<text class="t" y="2161"><tspan x="577">For transferring of phone data, we are not able</tspan><tspan x="577" dy="13.3">to help but we can advise them. If customers</tspan><tspan x="577" dy="13.3">need help, we direct them to the relevant</tspan><tspan x="577" dy="13.3">service centre.</tspan></text></g>
<g id="lp-11"><rect class="bb nb" x="791" y="2134" width="238" height="67"/><rect class="bh" x="791" y="2134" width="238" height="13"/>
<text class="t" y="2161"><tspan x="797.5">For phone questions, we will only advice them.</tspan><tspan x="797.5" dy="13.3">There are service centre provided by the brand to</tspan><tspan x="797.5" dy="13.3">solve these issues.</tspan></text></g>
<g id="lp-12"><rect class="bb nb" x="791" y="2201" width="115" height="92"/><rect class="bh" x="791" y="2201" width="115" height="13"/>
<text class="t" y="2227"><tspan x="797.5">Elderly folks will also</tspan><tspan x="797.5" dy="13.3">go in to the store as</tspan><tspan x="797.5" dy="13.3">they are no as savvy</tspan><tspan x="797.5" dy="13.3">and require assistance.</tspan></text></g>
<g id="lp-13"><rect class="bb nb" x="906" y="2201" width="105.5" height="92"/><rect class="bh" x="906" y="2201" width="105.5" height="13"/>
<text class="t" y="2227"><tspan x="912">Clementi huge base</tspan><tspan x="912" dy="13.3">of elderly customers,</tspan><tspan x="912" dy="13.3">they not tech savvy.</tspan><tspan x="912" dy="13.3">Need assistance</tspan></text></g>
<g id="lp-14"><rect class="bb nb" x="1113.5" y="1813" width="238.5" height="66"/><rect class="bh" x="1113.5" y="1813" width="238.5" height="13"/>
<text class="t" x="1120.5" y="1839.5">Language barrier is not really a problem.</text></g>
<g id="lp-15"><rect class="bb nb" x="1591.5" y="1813" width="106.5" height="76"/><rect class="bh" x="1591.5" y="1813" width="106.5" height="13"/>
<text class="t" y="1839.5"><tspan x="1598">Customers can range</tspan><tspan x="1598" dy="13.3">from 15 years old to</tspan><tspan x="1598" dy="13.3">80s 90s.</tspan></text></g>
<g id="lp-16"><rect class="gb nb" x="1896.5" y="1826" width="168" height="141"/><rect class="gh" x="1896.5" y="1826" width="168" height="17"/>
<text class="t" y="1855.5"><tspan x="1905">If missed out sharing any</tspan><tspan x="1905" dy="13.3">promotion with customer, and if</tspan><tspan x="1905" dy="13.3">they find out, they will ask why</tspan><tspan x="1905" dy="13.3">the promotion wasn’t shared with</tspan><tspan x="1905" dy="13.3">them. Have to base on what</tspan><tspan x="1905" dy="13.3">customer needs and upsell</tspan><tspan x="1905" dy="13.3">promotion that are relevant to</tspan><tspan x="1905" dy="13.3">them.</tspan></text></g>
<g id="lp-17"><rect class="bb nb" x="1113.5" y="2124" width="238.5" height="49"/><rect class="bh" x="1113.5" y="2124" width="238.5" height="13"/>
<text class="t" y="2151"><tspan x="1120.5">If I am not around to serve returning customers,</tspan><tspan x="1120.5" dy="13.3">colleagues will take it from there.</tspan></text></g>
<g id="lp-18"><rect class="gb nb" x="1352" y="2124" width="156" height="125"/><rect class="gh" x="1352" y="2124" width="156" height="17"/>
<text class="t" y="2154"><tspan x="1360">Follow up service mainly on</tspan><tspan x="1360" dy="13.3">stock availability. Inform</tspan><tspan x="1360" dy="13.3">customers that stock is</tspan><tspan x="1360" dy="13.3">available if they have indicated</tspan><tspan x="1360" dy="13.3">their interest for a particular</tspan><tspan x="1360" dy="13.3">phone model but it’s OOS.</tspan></text></g>
<g id="lp-19"><rect class="bb nb" x="1591.5" y="2123" width="220" height="96"/><rect class="bh" x="1591.5" y="2123" width="220" height="13"/>
<text class="t" y="2149.5"><tspan x="1598">M1 revise their plans every now and then to</tspan><tspan x="1598" dy="13.3">remain relevant to the dynamic situation of the</tspan><tspan x="1598" dy="13.3">industry.</tspan></text></g>
<g id="lp-20"><rect class="gb nb" x="1896.5" y="2134" width="106.5" height="120"/><rect class="gh" x="1896.5" y="2134" width="106.5" height="13"/>
<text class="t" y="2163"><tspan x="1903.5">Upsell - (50/50</tspan><tspan x="1903.5" dy="13.3">chance?) depends on</tspan><tspan x="1903.5" dy="13.3">customer</tspan></text></g>
</svg>
